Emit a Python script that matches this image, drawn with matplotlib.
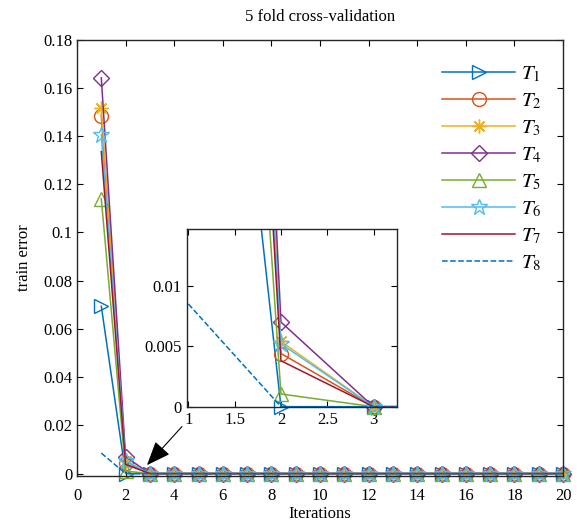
import numpy as np
import matplotlib.pyplot as plt

plt.rcParams['font.family'] = ['Liberation Serif', 'DejaVu Serif']
plt.rcParams['mathtext.fontset'] = 'stix'

iters = list(range(1, 21))
zeros = [0.0] * 18

T1 = [0.0694, 0.0] + zeros
T2 = [0.1484, 0.0044] + zeros
T3 = [0.1518, 0.0054] + zeros
T4 = [0.1641, 0.0070] + zeros
T5 = [0.1140, 0.00105] + zeros
T6 = [0.1405, 0.0052] + zeros
T7 = [0.1335, 0.0038] + zeros
T8 = [0.0085, 0.0] + zeros

series = [T1, T2, T3, T4, T5, T6, T7, T8]
labels = ['$T_1$', '$T_2$', '$T_3$', '$T_4$', '$T_5$', '$T_6$', '$T_7$', '$T_8$']
colors = ['#0072BD', '#D95319', '#EDB120', '#7E2F8E', '#77AC30', '#4DBEEE', '#A2142F', '#0072BD']
markers = ['>', 'o', (8, 2, 0), 'D', '^', '*', None, None]
styles = ['-'] * 7 + ['--']


def msize(m):
    if m == 'D':
        return 8
    if m == '*':
        return 12
    return 10


def draw(ax, xlim, ylim):
    x = np.array(iters, dtype=float)
    for y, lab, c, m, ls in zip(series, labels, colors, markers, styles):
        y = np.array(y)
        # lines clipped to the axes, markers only where the point is inside
        ax.plot(x, y, color=c, linestyle=ls, lw=1.1, label=lab if m is None else None)
        if m is not None:
            inside = (x >= xlim[0]) & (x <= xlim[1]) & (y >= ylim[0]) & (y <= ylim[1])
            ax.plot(x[inside], y[inside], color=c, marker=m, linestyle='none', ms=msize(m),
                    mfc='none', mec=c, mew=1.0, clip_on=False)
            # legend proxy
            ax.plot([], [], color=c, marker=m, linestyle=ls, lw=1.1, ms=msize(m),
                    mfc='none', mec=c, mew=1.0, label=lab)
    ax.set_xlim(*xlim)
    ax.set_ylim(*ylim)


def style(ax):
    ax.tick_params(direction='in', top=True, right=True, labelsize=12, length=4)
    for s in ax.spines.values():
        s.set_linewidth(1.0)
        s.set_color('#262626')


fig = plt.figure(figsize=(5.77, 5.24), dpi=100)
ax = fig.add_axes([77 / 577, 1 - 476 / 524, (563 - 77) / 577, (476 - 39.5) / 524])
draw(ax, (0, 20), (-0.001, 0.18))
ax.set_xticks(range(0, 21, 2))
ax.set_yticks(np.arange(0, 0.181, 0.02))
ax.set_yticklabels(['0', '0.02', '0.04', '0.06', '0.08', '0.1', '0.12', '0.14', '0.16', '0.18'])
style(ax)
ax.tick_params(axis='x', pad=9)
ax.set_title('5 fold cross-validation', fontsize=12, pad=13)
ax.set_xlabel('Iterations', fontsize=12, labelpad=1)
ax.set_ylabel('train error', fontsize=12, labelpad=8)

h, l = ax.get_legend_handles_labels()
hl = dict(zip(l, h))
ax.legend([hl[t] for t in labels], labels, loc='upper right', bbox_to_anchor=(0.995, 0.985),
          frameon=False, fontsize=15, handlelength=3.5, labelspacing=0.35, handletextpad=0.3)

ax.annotate('', xy=(2.88, 0.0035), xytext=(4.32, 0.0195),
            arrowprops=dict(arrowstyle='-|>,head_length=1.5,head_width=0.6',
                            color='black', lw=0.8, shrinkA=0, shrinkB=0))

ins = fig.add_axes([186.7 / 577, 1 - 406.7 / 524, (396.7 - 186.7) / 577, (406.7 - 229) / 524])
draw(ins, (0.982, 3.25), (0, 0.0147))
ins.set_xticks([1, 1.5, 2, 2.5, 3])
ins.set_xticklabels(['1', '1.5', '2', '2.5', '3'])
ins.set_yticks([0, 0.005, 0.01])
ins.set_yticklabels(['0', '0.005', '0.01'])
style(ins)

fig.savefig('out.png', dpi=100)
